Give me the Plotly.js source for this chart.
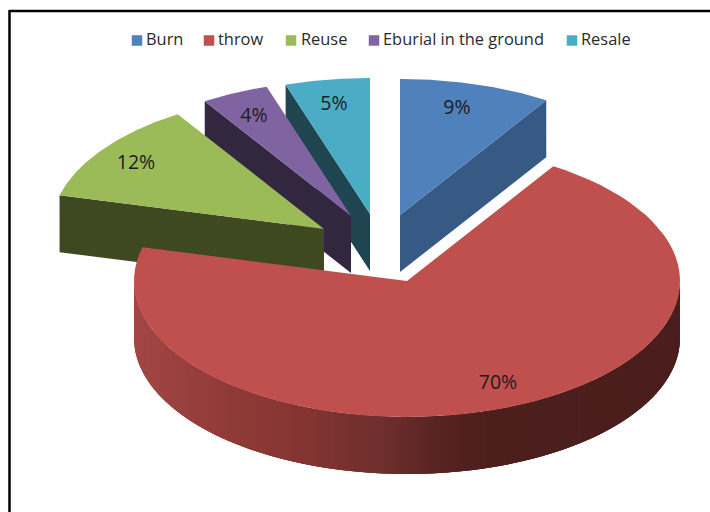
<!DOCTYPE html>
<html>
<head>
<meta charset="utf-8">
<script src="https://cdn.plot.ly/plotly-3.0.1.min.js"></script>
<style>html,body{margin:0;padding:0;background:#fff}#chart{width:710px;height:512px}</style>
</head>
<body>
<div id="chart"></div>
<script>
// Disposal shares, in percent
const categories = ['Burn', 'throw', 'Reuse', 'Eburial in the ground', 'Resale'];
const shares = [9, 70, 12, 4, 5];
const topColors = ['#4f81bd', '#c0504d', '#9bbb59', '#8064a2', '#4bacc6'];
const wallColors = ['#375a84', '#4a1f1d', '#3f4921', '#32273f', '#1f4650'];

// Projected pie geometry in plot units
const radiusX = 273, radiusY = 136, depth = 57;
const centers = [[400, 215], [407, 281], [324, 229], [351, 216], [370, 214]];
const labelSpots = [[457, 109], [498, 384], [136, 164], [254, 117], [334, 105]];
const legendSwatchX = [137, 209, 291, 374, 572];
const legendTextX = [146, 218, 301, 383, 581];
const legendY = 40.5;

// Shade stops along the visible rim of the large slice: [x, r, g, b]
const rimShade = [[134, 163, 71, 68], [220, 147, 60, 57], [320, 130, 52, 50],
                  [400, 108, 46, 44], [460, 84, 33, 32], [500, 76, 31, 29], [680, 74, 30, 28]];

const rad = d => d * Math.PI / 180;
const rimPoint = (c, deg) => [c[0] + radiusX * Math.sin(rad(deg)), c[1] - radiusY * Math.cos(rad(deg))];

function shadeAt(x) {
  for (let i = 1; i < rimShade.length; i++) {
    if (x <= rimShade[i][0]) {
      const a = rimShade[i - 1], b = rimShade[i], t = (x - a[0]) / (b[0] - a[0]);
      return 'rgb(' + [1, 2, 3].map(k => Math.round(a[k] + (b[k] - a[k]) * t)).join(',') + ')';
    }
  }
  return 'rgb(74,30,28)';
}

function polygon(points, color, name) {
  return {
    type: 'scatter', mode: 'lines', fill: 'toself', fillcolor: color, name: name,
    x: points.map(p => p[0]), y: points.map(p => p[1]),
    line: {color: color, width: 0}, hoverinfo: 'skip', showlegend: false
  };
}

// Slice start and end angles, clockwise from twelve o'clock
const total = shares.reduce((a, b) => a + b, 0);
let running = 0;
const spans = shares.map(v => {
  const s = [running / total * 360, (running + v) / total * 360];
  running += v;
  return s;
});

function topFace(i) {
  const c = centers[i], pts = [c];
  const [a, b] = spans[i];
  for (let k = 0; k <= 80; k++) pts.push(rimPoint(c, a + (b - a) * k / 80));
  pts.push(c);
  return polygon(pts, topColors[i], categories[i]);
}

// Flat cut wall of an exploded slice, running from the apex to the rim at one angle
function cutWall(i, deg) {
  const c = centers[i], p = rimPoint(c, deg);
  return polygon([c, p, [p[0], p[1] + depth], [c[0], c[1] + depth], c], wallColors[i], categories[i] + ' wall');
}

// Curved outer wall of the large slice; each strip runs under the next to hide seams
function rimStrips(i) {
  const c = centers[i], strips = [], n = 150, overlap = 3;
  for (let k = n - 1; k >= 0; k--) {
    const pts = [];
    const last = Math.min(k + overlap, n);
    for (let j = k; j <= last; j++) pts.push(rimPoint(c, 90 + 180 * j / n));
    for (let j = last; j >= k; j--) {
      const p = rimPoint(c, 90 + 180 * j / n);
      pts.push([p[0], p[1] + depth]);
    }
    pts.push(pts[0]);
    const mid = rimPoint(c, 90 + 180 * (k + 0.5) / n);
    strips.push(polygon(pts, shadeAt(mid[0]), categories[i] + ' rim'));
  }
  return strips;
}

// Back-to-front: each slice's top face sits over the wall of its clockwise neighbour
const traces = [
  cutWall(4, spans[4][0]), topFace(4),
  cutWall(3, spans[3][0]), topFace(3),
  cutWall(2, spans[2][0]), topFace(2),
  cutWall(0, spans[0][1]), topFace(0),
  ...rimStrips(1), topFace(1),
  {
    type: 'scatter', mode: 'text', name: 'Share labels',
    x: labelSpots.map(p => p[0]), y: labelSpots.map(p => p[1]),
    text: shares.map(v => v + '%'), textposition: 'middle center',
    textfont: {family: 'Open Sans, sans-serif', size: 19.5, color: '#1c1c1c'},
    hoverinfo: 'skip', showlegend: false
  },
  {
    type: 'scatter', mode: 'markers', name: 'Legend swatches',
    x: legendSwatchX, y: categories.map(() => legendY),
    marker: {symbol: 'square', size: 10.5, color: topColors},
    hoverinfo: 'skip', showlegend: false
  },
  {
    type: 'scatter', mode: 'text', name: 'Legend text',
    x: legendTextX, y: categories.map(() => legendY),
    text: categories, textposition: 'middle right',
    textfont: {family: 'Open Sans, sans-serif', size: 16.4, color: '#2a2a2a'},
    hoverinfo: 'skip', showlegend: false
  }
];

const layout = {
  width: 710, height: 512,
  margin: {l: 0, r: 0, t: 0, b: 0},
  paper_bgcolor: '#ffffff', plot_bgcolor: '#ffffff',
  showlegend: false,
  xaxis: {range: [0, 710], visible: false, fixedrange: true},
  yaxis: {range: [512, 0], visible: false, fixedrange: true},
  shapes: [
    {type: 'line', x0: 9.5, x1: 710, y0: 11, y1: 11, line: {color: '#000', width: 2.5}},
    {type: 'line', x0: 9.5, x1: 9.5, y0: 10, y1: 512, line: {color: '#000', width: 2.5}}
  ]
};

Plotly.newPlot('chart', traces, layout, {displayModeBar: false, staticPlot: true});
</script>
</body>
</html>
